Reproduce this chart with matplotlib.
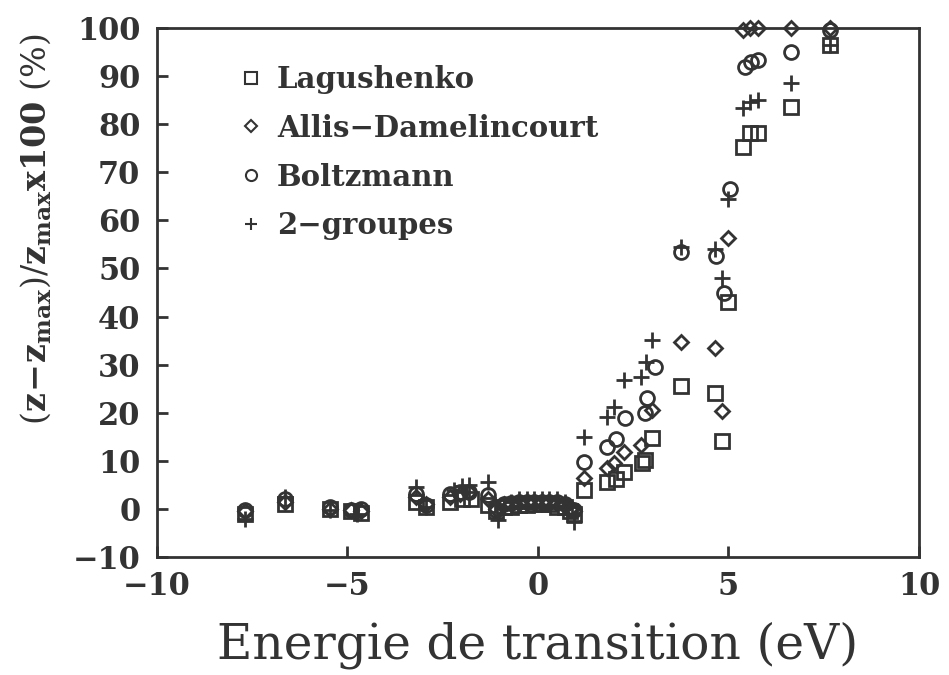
import matplotlib.pyplot as plt
from matplotlib.lines import Line2D

# Energie de transition (eV) et ecart relatif (%) pour chaque modele
lag_x = [-7.7, -6.65, -5.45, -4.9, -4.65, -3.2, -2.95, -2.3, -2.0, -1.75, -1.3,
         -1.1, -0.9, -0.7, -0.5, -0.3, -0.1, 0.1, 0.3, 0.5, 0.7, 0.85, 0.95,
         1.22, 1.8, 2.06, 2.27, 2.73, 2.8, 3.0, 3.75, 4.64, 4.82, 5.0,
         5.39, 5.57, 5.78, 6.64, 7.66]
lag_y = [-1.0, 1.0, 0.0, -0.5, -0.8, 1.5, 0.5, 1.5, 2.0, 2.0, 0.8,
         -0.5, 0.5, 0.5, 0.8, 0.8, 1.0, 1.0, 1.0, 0.5, 0.5, -0.5, -1.0,
         4.0, 5.6, 6.2, 7.7, 9.6, 10.2, 14.8, 25.6, 24.1, 14.1, 43.0,
         75.3, 78.2, 78.2, 83.6, 96.5]

allis_x = [-7.7, -6.65, -5.45, -4.9, -4.65, -3.2, -2.95, -2.3, -2.05, -1.8, -1.3,
           -1.1, -0.9, -0.7, -0.5, -0.3, -0.1, 0.1, 0.3, 0.5, 0.7, 0.85, 0.95,
           1.22, 1.8, 2.0, 2.27, 2.7, 3.0, 3.75, 4.64, 4.82, 5.0,
           5.39, 5.57, 5.78, 6.64, 7.66]
allis_y = [-0.5, 1.5, 0.0, -0.3, -0.5, 2.5, 1.0, 2.5, 3.0, 3.5, 2.0,
           0.0, 1.0, 1.0, 1.2, 1.5, 1.5, 1.5, 1.5, 1.2, 1.0, 0.0, -0.5,
           6.5, 8.5, 9.6, 11.8, 13.3, 20.6, 34.7, 33.5, 20.4, 56.3,
           99.5, 100.0, 100.0, 100.0, 100.0]

boltz_x = [-7.7, -6.65, -5.45, -4.9, -4.65, -3.2, -2.95, -2.3, -2.05, -1.8, -1.3,
           -1.1, -0.9, -0.7, -0.5, -0.3, -0.1, 0.1, 0.3, 0.5, 0.7, 0.85, 0.95,
           1.22, 1.82, 2.05, 2.29, 2.8, 2.85, 3.07, 3.75, 4.66, 4.87, 5.05,
           5.44, 5.6, 5.78, 6.64, 7.66]
boltz_y = [-0.3, 2.0, 0.3, -0.3, 0.0, 3.0, 0.8, 3.0, 3.5, 3.5, 2.9,
           -0.3, 1.0, 1.2, 1.5, 1.5, 1.5, 1.5, 1.5, 1.5, 1.0, 0.0, -0.3,
           9.7, 12.9, 14.5, 18.9, 20.0, 23.0, 29.5, 53.5, 52.5, 45.0, 66.5,
           91.9, 92.9, 93.3, 95.0, 99.5]

grp_x = [-7.7, -6.65, -5.45, -4.75, -3.2, -2.95, -2.2, -2.0, -1.8, -1.3,
         -1.05, -0.9, -0.7, -0.5, -0.3, -0.1, 0.1, 0.3, 0.5, 0.7, 0.95,
         1.22, 1.8, 2.0, 2.27, 2.7, 2.84, 3.0, 3.75, 4.64, 4.82, 5.0,
         5.39, 5.57, 5.78, 6.64, 7.66]
grp_y = [-2.0, 2.5, -0.3, -1.0, 4.5, 0.5, 4.0, 4.8, 5.0, 5.6,
         -2.3, 0.5, 1.5, 2.0, 2.0, 2.0, 2.0, 2.0, 2.0, 1.5, -2.7,
         15.0, 19.1, 21.2, 26.8, 27.4, 30.5, 35.1, 54.5, 54.0, 48.0, 64.5,
         83.4, 84.6, 85.0, 88.6, 96.5]

labels = ["Lagushenko", "Allis\u2212Damelincourt", "Boltzmann", "2\u2212groupes"]
yticks = list(range(-10, 101, 10))
xticks = [-10, -5, 0, 5, 10]

INK = "#333333"
plt.rcParams["mathtext.fontset"] = "dejavuserif"

fig = plt.figure(figsize=(9.49, 6.75), dpi=100)
ax = fig.add_axes([0.1654, 0.1748, 0.803, 0.7837])

series = [
    (lag_x, lag_y, "s", 10),
    (allis_x, allis_y, "D", 7),
    (boltz_x, boltz_y, "o", 10),
    (grp_x, grp_y, "+", 11),
]
for x, y, m, ms in series:
    ax.plot(x, y, linestyle="none", marker=m, markersize=ms, markerfacecolor="none",
            markeredgecolor=INK, markeredgewidth=2.0, clip_on=False)

ax.set_xlim(-10, 10)
ax.set_ylim(-10, 100)
ax.set_xticks(xticks)
ax.set_yticks(yticks)
ax.set_xticklabels([str(t).replace("-", "\u2212") for t in xticks])
ax.set_yticklabels([str(t).replace("-", "\u2212") for t in yticks])
ax.tick_params(direction="in", length=8, width=2, color=INK, labelcolor=INK,
               top=False, right=False, labelsize=22)
ax.tick_params(axis="x", pad=10)
ax.tick_params(axis="y", pad=12)
for lbl in ax.get_xticklabels() + ax.get_yticklabels():
    lbl.set_family("DejaVu Serif")
    lbl.set_fontweight("bold")
for sp in ax.spines.values():
    sp.set_linewidth(2)
    sp.set_color(INK)

# legend handles drawn smaller than the data markers
handles = [
    Line2D([], [], linestyle="none", marker="s", markersize=8, markerfacecolor="none",
           markeredgecolor=INK, markeredgewidth=1.5),
    Line2D([], [], linestyle="none", marker="D", markersize=6, markerfacecolor="none",
           markeredgecolor=INK, markeredgewidth=1.5),
    Line2D([], [], linestyle="none", marker="o", markersize=8, markerfacecolor="none",
           markeredgecolor=INK, markeredgewidth=1.5),
    Line2D([], [], linestyle="none", marker="+", markersize=9, markerfacecolor="none",
           markeredgecolor=INK, markeredgewidth=1.5),
]
leg = ax.legend(handles, labels, loc="upper left", bbox_to_anchor=(0.073, 0.98),
                frameon=False, handlelength=0.8, handletextpad=0.5, labelspacing=0.68,
                prop={"family": "DejaVu Serif", "weight": "bold", "size": 21})
for t in leg.get_texts():
    t.set_color(INK)

ax.set_xlabel("Energie de transition (eV)", fontsize=35, family="DejaVu Serif",
              color=INK, labelpad=14)
fig.text(0.037, 0.66,
         r"$(\mathbf{z\!-\!z_{max}})/\mathbf{z_{max}}\mathbf{x100}\ (\%)$",
         rotation=90, ha="center", va="center", fontsize=24, color=INK)

fig.savefig("out.png", dpi=100)
